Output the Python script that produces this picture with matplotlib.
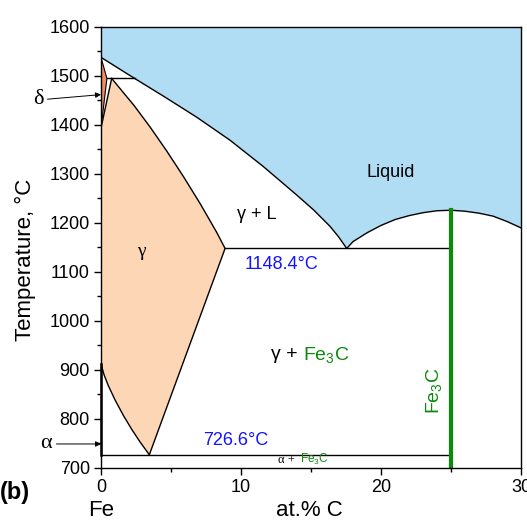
import matplotlib
matplotlib.use('Agg')
import matplotlib.pyplot as plt
from matplotlib.ticker import MultipleLocator

plt.rcParams['font.family'] = ['Liberation Sans', 'DejaVu Sans']
plt.rcParams['mathtext.fontset'] = 'custom'
plt.rcParams['mathtext.rm'] = 'Liberation Sans'
plt.rcParams['mathtext.it'] = 'Liberation Sans'

# phase boundaries, at.% C vs temperature (°C)
liq_left_x = [0, 2.4, 4.45, 6.83, 9.21, 11.6, 13.98, 15.17, 16.36, 16.96, 17.55]
liq_left_t = [1538, 1495, 1459, 1416, 1369, 1315, 1257, 1227, 1193, 1172, 1148]
liq_right_x = [17.55, 18, 19, 20, 21, 22, 23, 24, 25, 26, 27, 28, 29, 30]
liq_right_t = [1148, 1162, 1180, 1195, 1207, 1215, 1221, 1225, 1226, 1224, 1220, 1214, 1203, 1190]

sol_gamma_x = [0.76, 2.38, 3.5, 4.69, 5.88, 7.07, 8.26, 8.86]
sol_gamma_t = [1495, 1439, 1396, 1347, 1295, 1240, 1181, 1148]
a3_x = [0, 0.22, 0.52, 1.0, 1.6, 2.19, 2.79, 3.45]
a3_t = [912, 890, 868, 839, 807, 779, 753, 727]
acm_x = [3.45, 8.86]
acm_t = [727, 1148]

delta_x = [0, 0.42, 0]
delta_t = [1538, 1495, 1394]
gamma_top_x = [0, 0.76]
gamma_top_t = [1394, 1495]

peritectic_x = [0.42, 2.4]
peritectic_t = 1495
eutectic_x = [8.86, 25]
eutectic_t = 1148
eutectoid_x = [0, 25]
eutectoid_t = 727
fe3c_x = 25
fe3c_t = [700, 1226]

c_liq = '#b1ddf4'
c_gam = '#fdd6b5'
c_del = '#ef8d63'
c_green = '#0b8a0b'
c_blue = '#1414ff'

fig = plt.figure(figsize=(5.27, 5.23), dpi=100)
ax = fig.add_axes([0.1917, 0.1052, 0.797, 0.8432])

# liquid region
lx = liq_left_x + liq_right_x[1:]
lt = liq_left_t + liq_right_t[1:]
ax.fill(lx + [30, 0], lt + [1600, 1600], color=c_liq, lw=0, zorder=1)
ax.plot(lx, lt, color='k', lw=1, zorder=3)

# gamma region
gx = gamma_top_x + sol_gamma_x[1:] + acm_x[::-1][1:] + a3_x[::-1]
gt = gamma_top_t + sol_gamma_t[1:] + acm_t[::-1][1:] + a3_t[::-1]
ax.fill(gx, gt, color=c_gam, lw=0, zorder=1)
ax.plot(sol_gamma_x, sol_gamma_t, color='k', lw=1, zorder=3)
ax.plot(a3_x, a3_t, color='k', lw=1, zorder=3)
ax.plot(acm_x, acm_t, color='k', lw=1, zorder=3)
ax.plot(gamma_top_x, gamma_top_t, color='k', lw=1, zorder=3)

# delta region
ax.fill(delta_x, delta_t, color=c_del, lw=0, zorder=1)
ax.plot(delta_x, delta_t, color='k', lw=0.8, zorder=3)

# invariant lines
ax.plot(peritectic_x, [peritectic_t] * 2, color='k', lw=1, zorder=3)
ax.plot(eutectic_x, [eutectic_t] * 2, color='k', lw=1, zorder=3)
ax.plot(eutectoid_x, [eutectoid_t] * 2, color='k', lw=1, zorder=3)
ax.plot([0, 0], [727, 912], color='k', lw=1.8, zorder=6, clip_on=False)

# cementite
ax.plot([fe3c_x, fe3c_x], fe3c_t, color=c_green, lw=3, zorder=4)

ax.set_xlim(0, 30)
ax.set_ylim(700, 1600)
ax.xaxis.set_major_locator(MultipleLocator(10))
ax.xaxis.set_minor_locator(MultipleLocator(5))
ax.yaxis.set_major_locator(MultipleLocator(100))
ax.yaxis.set_minor_locator(MultipleLocator(50))
ax.tick_params(which='major', direction='out', length=5, width=1, labelsize=13, pad=3)
ax.tick_params(which='minor', direction='out', length=3, width=1)
for s in ax.spines.values():
    s.set_linewidth(1)
    s.set_zorder(5)

ax.set_ylabel('Temperature, °C', fontsize=16)
ax.yaxis.set_label_coords(-0.155, 0.472)

# labels
ax.text(20.7, 1304, 'Liquid', fontsize=13, ha='center', va='center', zorder=6)
ax.text(11.1, 1218, 'γ + L', fontsize=13, ha='center', va='center', zorder=6)
ax.text(2.9, 1141, 'γ', fontsize=14, ha='center', va='center',
        family=['Liberation Serif', 'DejaVu Serif'], zorder=6)
ax.text(12.9, 1116, '1148.4°C', fontsize=13, ha='center', va='center', color=c_blue, zorder=6)
ax.text(9.6, 757, '726.6°C', fontsize=13, ha='center', va='center', color=c_blue, zorder=6)
ax.text(14.4, 931, 'γ + ', fontsize=14, ha='right', va='center', zorder=6)
ax.text(14.4, 931, 'Fe$_3$C', fontsize=14, ha='left', va='center', color=c_green, zorder=6)
ax.text(23.8, 857, 'Fe$_3$C', fontsize=14, ha='center', va='center', color=c_green,
        rotation=90, zorder=6)
ax.text(14.1, 717, 'α + ', fontsize=9, ha='right', va='center',
        family=['Liberation Serif', 'DejaVu Serif'], zorder=6)
ax.text(14.2, 717, 'Fe$_3$C', fontsize=8.5, ha='left', va='center', color=c_green, zorder=6)

arrow = dict(arrowstyle='-|>', lw=0.7, color='k', mutation_scale=8, shrinkA=1, shrinkB=0)
ax.annotate('δ', xy=(0, 1462), xytext=(-4.5, 1451), fontsize=16, ha='center', va='center',
            family=['Liberation Serif', 'DejaVu Serif'], arrowprops=arrow, annotation_clip=False)
ax.annotate('α', xy=(0, 749), xytext=(-3.9, 749), fontsize=16, ha='center', va='center',
            family=['Liberation Serif', 'DejaVu Serif'], arrowprops=arrow, annotation_clip=False)

fig.text(0.0, 1 - 492 / 523, '(b)', fontsize=17, fontweight='bold', ha='left', va='center')
fig.text(101 / 527, 1 - 510 / 523, 'Fe', fontsize=16, ha='center', va='center')
fig.text(309 / 527, 1 - 510 / 523, 'at.% C', fontsize=16, ha='center', va='center')

fig.savefig('out.png', dpi=100)
